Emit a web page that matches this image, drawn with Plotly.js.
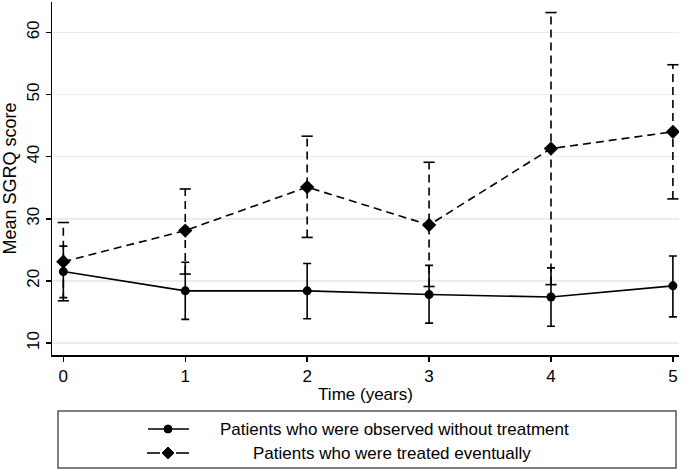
<!DOCTYPE html>
<html>
<head>
<meta charset="utf-8">
<script src="https://cdn.plot.ly/plotly-3.0.1.min.js"></script>
<style>html,body{margin:0;padding:0;background:#fff;}#chart{width:685px;height:470px;}</style>
</head>
<body>
<div id="chart"></div>
<script>
// Data
const years = [0, 1, 2, 3, 4, 5];
const xTickLabels = ['0', '1', '2', '3', '4', '5'];
const yTickValues = [10, 20, 30, 40, 50, 60];

const observedName = 'Patients who were observed without treatment';
const observedMean = [21.5, 18.4, 18.4, 17.8, 17.4, 19.2];
const observedLow  = [17.3, 13.8, 13.9, 13.2, 12.7, 14.2];
const observedHigh = [25.6, 23.0, 22.8, 22.5, 22.1, 24.0];

const treatedName = 'Patients who were treated eventually';
const treatedMean = [23.1, 28.1, 35.1, 29.0, 41.3, 44.0];
const treatedLow  = [16.8, 21.1, 27.0, 19.1, 19.4, 33.2];
const treatedHigh = [29.4, 34.8, 43.3, 39.1, 63.2, 54.8];

const FONT = 'Liberation Sans, Arial, sans-serif';

// Observed: solid line, circles, solid error bars
const obsTrace = {
  x: years, y: observedMean, name: observedName, type: 'scatter', mode: 'lines+markers',
  line: {color: '#000', width: 1.6},
  marker: {symbol: 'circle', size: 9, color: '#000'},
  error_y: {type: 'data', symmetric: false,
    array: observedHigh.map((h, i) => h - observedMean[i]),
    arrayminus: observedMean.map((m, i) => m - observedLow[i]),
    color: '#000', thickness: 1.6, width: 4},
  showlegend: false
};

// Treated: dashed error bars drawn as dashed segments through the data scales
const ex = [], ey = [];
years.forEach((t, i) => { ex.push(t, t, null); ey.push(treatedLow[i], treatedHigh[i], null); });
const trtErr = {
  x: ex, y: ey, type: 'scatter', mode: 'lines', hoverinfo: 'skip',
  line: {color: '#000', width: 1.6, dash: '8px,5px'}, showlegend: false
};
const capX = years.concat(years);
const capY = treatedLow.concat(treatedHigh);
const trtCaps = {
  x: capX, y: capY, type: 'scatter', mode: 'markers', hoverinfo: 'skip',
  marker: {symbol: 'line-ew', size: 8, line: {color: '#000', width: 1.6}}, showlegend: false
};
const trtTrace = {
  x: years, y: treatedMean, name: treatedName, type: 'scatter', mode: 'lines+markers',
  line: {color: '#000', width: 1.6, dash: '8px,5px'},
  marker: {symbol: 'diamond', size: 11, color: '#000'},
  showlegend: false
};

// Custom Stata-style legend box (positions in figure pixels, converted to paper = plot area)
const W = 685, H = 470;
const M = {l: 52, r: 6, t: 2, b: 115};
const PW = W - M.l - M.r, PH = H - M.t - M.b;
const px = v => (v - M.l) / PW, py = v => (H - M.b - v) / PH;
const legL = 58, legR = 676, legT = 411, legB = 468;
const row1 = 429, row2 = 453;
const shapes = [
  {type: 'rect', xref: 'paper', yref: 'paper', x0: px(legL), x1: px(legR), y0: py(legB), y1: py(legT),
   line: {color: '#555', width: 1.5}, fillcolor: 'rgba(0,0,0,0)'},
  {type: 'line', xref: 'paper', yref: 'paper', x0: px(148), x1: px(189), y0: py(row1), y1: py(row1),
   line: {color: '#000', width: 1.6}},
  {type: 'circle', xref: 'paper', yref: 'paper', x0: px(164), x1: px(172), y0: py(row1 + 4), y1: py(row1 - 4),
   fillcolor: '#000', line: {color: '#000', width: 1}},
  {type: 'line', xref: 'paper', yref: 'paper', x0: px(147), x1: px(160), y0: py(row2), y1: py(row2),
   line: {color: '#000', width: 1.6}},
  {type: 'line', xref: 'paper', yref: 'paper', x0: px(176), x1: px(189), y0: py(row2), y1: py(row2),
   line: {color: '#000', width: 1.6}},
  {type: 'path', xref: 'paper', yref: 'paper',
   path: 'M ' + px(162) + ',' + py(row2) + ' L ' + px(168) + ',' + py(row2 - 6) + ' L ' + px(174) + ',' + py(row2) + ' L ' + px(168) + ',' + py(row2 + 6) + ' Z',
   fillcolor: '#000', line: {color: '#000', width: 1}}
];
const annotations = [
  {xref: 'paper', yref: 'paper', x: px(394), y: py(row1), text: observedName, showarrow: false,
   xanchor: 'center', yanchor: 'middle', font: {family: FONT, size: 17, color: '#000'}},
  {xref: 'paper', yref: 'paper', x: px(392), y: py(row2), text: treatedName, showarrow: false,
   xanchor: 'center', yanchor: 'middle', font: {family: FONT, size: 17, color: '#000'}}
];

const layout = {
  width: W, height: H,
  margin: M,
  paper_bgcolor: '#fff', plot_bgcolor: '#fff',
  font: {family: FONT, size: 16, color: '#000'},
  showlegend: false,
  xaxis: {
    range: [-0.093, 5.05], tickmode: 'array', tickvals: years, ticktext: xTickLabels,
    showgrid: false, zeroline: false, showline: true, linecolor: '#000', linewidth: 1.5,
    ticks: 'outside', ticklen: 5, tickwidth: 1.5, tickcolor: '#000',
    tickfont: {family: FONT, size: 17, color: '#000'},
    title: {text: 'Time (years)', font: {family: FONT, size: 17, color: '#000'}, standoff: 3}
  },
  yaxis: {
    range: [8.07, 64.9], tickmode: 'array', tickvals: yTickValues,
    tickangle: -90,
    showgrid: true, gridcolor: '#ececec', gridwidth: 1.5,
    zeroline: false, showline: true, linecolor: '#000', linewidth: 1.5,
    ticks: 'outside', ticklen: 5, tickwidth: 1.5, tickcolor: '#000',
    tickfont: {family: FONT, size: 17, color: '#000'},
    title: {text: 'Mean SGRQ score', font: {family: FONT, size: 18, color: '#000'}, standoff: 6}
  },
  shapes: shapes,
  annotations: annotations
};

Plotly.newPlot('chart', [obsTrace, trtErr, trtCaps, trtTrace], layout, {displayModeBar: false, staticPlot: true});
</script>
</body>
</html>
